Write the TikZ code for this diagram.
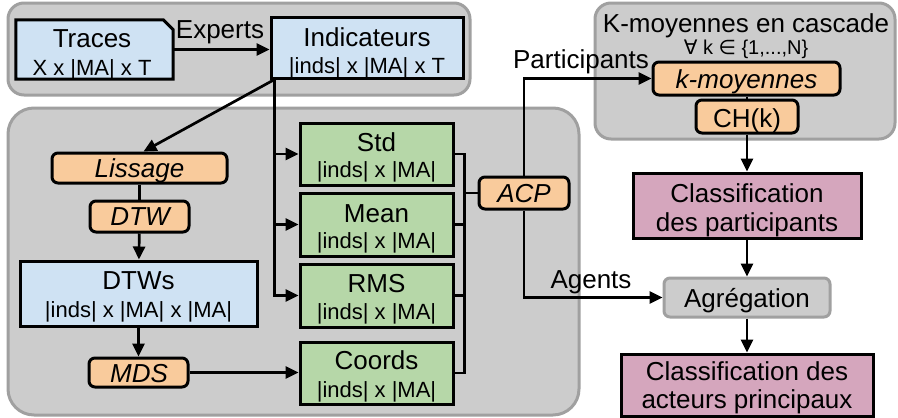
\documentclass[tikz,border=0pt]{standalone}
\usepackage{fontspec}
\setmainfont{Liberation Sans}
\newfontfamily\symfont{DejaVu Sans}
\usetikzlibrary{arrows.meta}
\definecolor{cblue}{HTML}{CFE2F3}
\definecolor{cgreen}{HTML}{B6D7A8}
\definecolor{corange}{HTML}{F9CB9C}
\definecolor{cpink}{HTML}{D5A6BD}
\definecolor{cgray}{HTML}{CCCCCC}
\definecolor{cgrayb}{HTML}{A0A0A0}
\tikzset{
  grp/.style={draw=cgrayb, fill=cgray, line width=3pt, inner sep=0pt},
  bx/.style={draw=black, line width=3pt, inner sep=0pt},
  bluebox/.style={bx, fill=cblue},
  greenbox/.style={bx, fill=cgreen},
  pinkbox/.style={bx, fill=cpink},
  orangebox/.style={bx, fill=corange, rounded corners=6pt},
  graybox/.style={draw=cgrayb, fill=cgray, line width=3pt, rounded corners=6pt, inner sep=0pt},
  mainf/.style={font=\fontsize{26}{28}\selectfont, anchor=base, inner sep=0pt},
  subf/.style={font=\fontsize{22}{24}\selectfont, anchor=base, inner sep=0pt},
  itf/.style={font=\fontsize{26}{28}\selectfont\itshape, anchor=base, inner sep=0pt},
  conn/.style={line width=2.7pt},
  arr/.style={conn, -{Triangle[length=13pt,width=12pt]}},
}
\begin{document}
\begin{tikzpicture}[x=1pt,y=-1pt]
\useasboundingbox (0,0) rectangle (898,418);
% groups
\node[grp, rounded corners=16pt, minimum width=462pt, minimum height=92pt] (g1) at (239,49) {};
\node[grp, rounded corners=26pt, minimum width=571pt, minimum height=307pt] (g2) at (293.5,261.5) {};
\node[grp, rounded corners=16pt, minimum width=300pt, minimum height=136pt] (g3) at (745,71) {};
% boxes
\node[minimum width=157pt, minimum height=59pt, inner sep=0pt] (tr) at (94.5,49.5) {};
\draw[bluebox] (tr.south west) -- (tr.north west) -- ([xshift=-10pt]tr.north east) -- ([yshift=-10pt]tr.north east) -- (tr.south east) -- cycle;
\node[bluebox, minimum width=192pt, minimum height=61pt] (ind) at (367,47.5) {};
\node[orangebox, minimum width=175pt, minimum height=30pt] (lis) at (139.5,168) {};
\node[orangebox, minimum width=99pt, minimum height=31pt] (dtw) at (139.5,216.5) {};
\node[bluebox, minimum width=237pt, minimum height=65pt] (dtws) at (138.5,293.5) {};
\node[orangebox, minimum width=99pt, minimum height=29pt] (mds) at (138.5,372.5) {};
\node[greenbox, minimum width=153pt, minimum height=62pt] (std) at (376.5,154) {};
\node[greenbox, minimum width=153pt, minimum height=63pt] (mean) at (376.5,224.5) {};
\node[greenbox, minimum width=153pt, minimum height=63pt] (rms) at (376.5,295.5) {};
\node[greenbox, minimum width=153pt, minimum height=62pt] (crd) at (376.5,373) {};
\node[orangebox, minimum width=90pt, minimum height=32pt] (acp) at (524,193) {};
\node[orangebox, minimum width=187pt, minimum height=33pt] (km) at (746.5,78.5) {};
\node[orangebox, minimum width=102pt, minimum height=33pt] (ch) at (747,116.5) {};
\node[pinkbox, minimum width=228pt, minimum height=65pt] (cp) at (747,205.5) {};
\node[graybox, minimum width=166pt, minimum height=39pt] (agr) at (747,297.5) {};
\node[pinkbox, minimum width=252pt, minimum height=62pt] (cap) at (747,385) {};
% texts
\node[mainf] (ttr) at (92,47) {Traces};
\node[subf] (ttr2) at (92,75) {X x |MA| x T};
\node[mainf] (tind) at (367,46) {Indicateurs};
\node[subf] (tind2) at (367,73) {|inds| x |MA| x T};
\node[itf] (tlis) at (139.5,177) {Lissage};
\node[itf] (tdtw) at (140,225) {DTW};
\node[mainf] (tdtws) at (138.5,289) {DTWs};
\node[subf] (tdtws2) at (138.5,317) {|inds| x |MA| x |MA|};
\node[itf] (tmds) at (139,382) {MDS};
\node[mainf] (tstd) at (376.5,151) {Std};
\node[subf] (tstd2) at (376.5,177) {|inds| x |MA|};
\node[mainf] (tmean) at (376.5,222) {Mean};
\node[subf] (tmean2) at (376.5,248) {|inds| x |MA|};
\node[mainf] (trms) at (376.5,292) {RMS};
\node[subf] (trms2) at (376.5,319) {|inds| x |MA|};
\node[mainf] (tcrd) at (376.5,369) {Coords};
\node[subf] (tcrd2) at (376.5,397) {|inds| x |MA|};
\node[itf] (tacp) at (524,202) {ACP};
\node[mainf] (tg3) at (746,32) {K-moyennes en cascade};
\node[font=\fontsize{20}{22}\selectfont, anchor=base, inner sep=0pt] (tg3b) at (746,54) {{\symfont ∀} k {\symfont ∈} \{1,...,N\}};
\node[itf] (tkm) at (746.5,88) {k-moyennes};
\node[mainf] (tch) at (747,127) {CH(k)};
\node[mainf] (tcp) at (747,202) {Classification};
\node[mainf] (tcp2) at (747,231) {des participants};
\node[mainf] (tagr) at (747,307) {Agrégation};
\node[mainf] (tcap) at (747,380) {Classification des};
\node[mainf] (tcap2) at (747,408) {acteurs principaux};
% connectors
\draw[arr] (tr.east) -- (tr.east -| ind.west);
\node[mainf] (lexp) at (220,38) {Experts};
\coordinate (vt) at ([xshift=5pt]ind.south west);
\draw[arr] (vt) -- ([xshift=4pt]lis.north);
\draw[arr] (vt) |- (rms.west);
\draw[arr] (vt |- std.west) -- (std.west);
\draw[arr] (vt |- mean.west) -- (mean.west);
\draw[conn] (lis) -- (dtw);
\draw[arr] (dtw) -- (dtws);
\draw[arr] (dtws) -- (mds);
\draw[arr] (mds.east) -- (mds.east -| crd.west);
\coordinate (bt) at ([xshift=10pt]std.east);
\draw[conn] (std.east) -- (bt) |- (crd.east);
\draw[conn] (mean.east) -- (mean.east -| bt);
\draw[conn] (rms.east) -- (rms.east -| bt);
\draw[conn] (acp.west) -- (acp.west -| bt);
\draw[arr] (acp.north) |- (km.west);
\node[mainf] (lpart) at (581,68) {Participants};
\draw[arr] (acp.south) |- (agr.west);
\node[mainf] (lag) at (591,288) {Agents};
\draw[conn] (km.south -| ch.north) -- (ch.north);
\draw[arr] (ch) -- (cp);
\draw[arr] (cp) -- (agr);
\draw[arr] (agr) -- (cap);
\end{tikzpicture}
\end{document}
